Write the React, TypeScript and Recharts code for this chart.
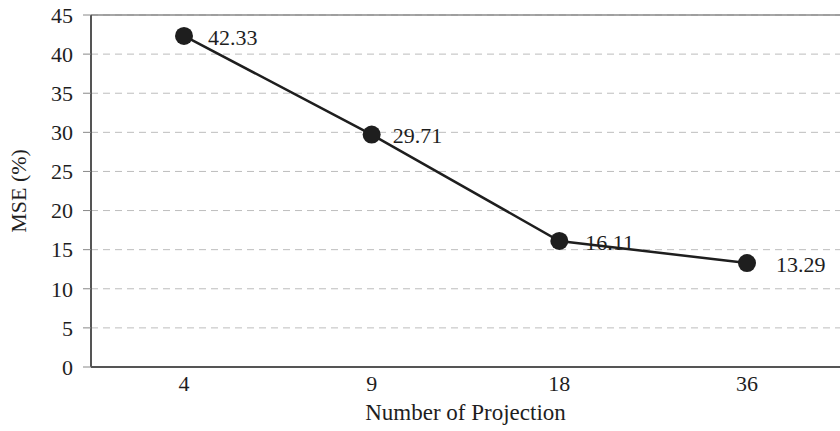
import { LineChart, Line, XAxis, YAxis, CartesianGrid, LabelList, ReferenceLine } from "recharts";

// MSE vs number of projections — scanned-figure look, serif text, dashed grid.
const projections = ["4", "9", "18", "36"];
const mse = [42.33, 29.71, 16.11, 13.29];
const yTicks = [0, 5, 10, 15, 20, 25, 30, 35, 40, 45];

const data = projections.map((p, i) => ({ p, v: mse[i] }));

const FONT = "'Liberation Serif', 'Times New Roman', serif";
const INK = "#1e1e1e";
// how far each value label sits to the right of its dot (the scan isn't uniform)
const labelGap = [24, 21, 26, 29];

function PointLabel(props: any) {
  const { x, y, value, index } = props;
  return (
    <text x={x + labelGap[index]} y={y + 1} dy="0.35em" fontSize={22} fill={INK} fontFamily={FONT}>
      {value.toFixed(2)}
    </text>
  );
}

export default function App() {
  return (
    <div style={{ position: "absolute", left: 0, top: 0, background: "#fff" }}>
      <LineChart width={840} height={431} data={data} margin={{ top: 15, right: 0, bottom: 0, left: 0 }}>
        <CartesianGrid vertical={false} stroke="#bdbdbd" strokeDasharray="7 5" />
        <ReferenceLine y={45} stroke="#8a8a8a" strokeWidth={1.5} />
        <XAxis
          dataKey="p"
          height={64}
          padding={{ left: 93, right: 93 }}
          tickLine={false}
          tickSize={0}
          tickMargin={8}
          axisLine={{ stroke: "#555", strokeWidth: 2 }}
          tick={{ fontSize: 22, fill: INK, fontFamily: FONT }}
          label={{ value: "Number of Projection", position: "insideBottom", offset: 11, fontSize: 23, fill: INK, fontFamily: FONT }}
        />
        <YAxis
          width={91}
          domain={[0, 45]}
          ticks={yTicks}
          interval={0}
          tickSize={8}
          tickMargin={10}
          tickLine={{ stroke: "#888" }}
          axisLine={{ stroke: "#555", strokeWidth: 2 }}
          tick={{ fontSize: 22, fill: INK, fontFamily: FONT }}
          label={{ value: "MSE (%)", angle: -90, position: "insideLeft", offset: 18, fontSize: 22, fill: INK, fontFamily: FONT, style: { textAnchor: "middle" } }}
        />
        <Line
          type="linear"
          dataKey="v"
          stroke={INK}
          strokeWidth={2.5}
          dot={{ r: 9, fill: INK, stroke: INK, strokeWidth: 0 }}
          activeDot={false}
          isAnimationActive={false}
        >
          <LabelList dataKey="v" content={<PointLabel />} />
        </Line>
      </LineChart>
    </div>
  );
}
